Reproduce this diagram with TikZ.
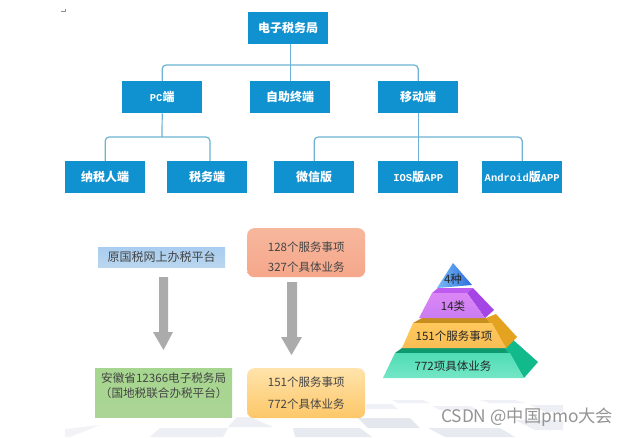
\documentclass[tikz,border=0pt]{standalone}
\usepackage{fontspec}
\setmainfont{Noto Sans CJK SC}
\newfontfamily\mono{Liberation Mono}
\newcommand{\lat}[1]{{\mono\fontsize{10.5}{12}\selectfont\bfseries #1}}
\definecolor{boxblue}{HTML}{1192D0}
\definecolor{connblue}{HTML}{6DB3D3}
\definecolor{arrowgray}{HTML}{ABABAB}
\definecolor{floorgray}{HTML}{E3E5EE}
\definecolor{inktext}{HTML}{444444}
\tikzset{
 orgbox/.style={fill=boxblue,text=white,font=\fontsize{12}{14}\selectfont\bfseries,minimum width=80pt,minimum height=32pt,inner sep=0pt,anchor=north west},
 conn/.style={draw=connblue,line width=1.2pt,rounded corners=4pt},
 softbox/.style={inner sep=0pt,anchor=north west,text=inktext,align=center},
 bigarrow/.style={fill=arrowgray},
 pyrtext/.style={inner sep=0pt,text=black!85,font=\fontsize{11.5}{13}\selectfont},
 floorpatch/.style={fill=floorgray}
}
\begin{document}
\begin{tikzpicture}[x=1pt,y=-1pt]
\useasboundingbox (0,0) rectangle (629,437);
\fill[white] (0,0) rectangle (629,437);
% floor
\fill[floorgray!45] (65,429) -- (100,425) -- (70,437) -- (65,437) -- cycle;
\fill[floorpatch,opacity=.6] (160,428) -- (228,428) -- (223,437) -- (150,437) -- cycle;
\fill[floorpatch,opacity=.6] (228,427) -- (237,417) -- (250,417) -- (273,427) -- cycle;
\fill[floorpatch,opacity=.8] (293,428) -- (360,428) -- (372,437) -- (295,437) -- cycle;
\fill[floorpatch,opacity=.9] (358,418) -- (410,418) -- (420,428) -- (368,428) -- cycle;
\fill[floorpatch,opacity=.8] (428,428) -- (500,428) -- (515,437) -- (445,437) -- cycle;
\fill[floorpatch,opacity=.5] (366,404) -- (392,404) -- (398,409) -- (366,409) -- cycle;
\fill[floorpatch,opacity=.5] (392,400) -- (423,400) -- (430,403) -- (398,403) -- cycle;
\fill[floorpatch,opacity=.5] (432,406) -- (470,406) -- (478,410) -- (440,410) -- cycle;
\fill[floorpatch,opacity=.5] (480,400) -- (515,400) -- (525,403) -- (490,403) -- cycle;
\fill[floorpatch,opacity=.6] (530,405) -- (563,405) -- (563,412) -- (545,412) -- cycle;
\fill[floorpatch,opacity=.6] (515,420) -- (563,420) -- (563,430) -- (535,430) -- cycle;
% corner mark
\draw[black!45,line width=0.5pt] (60.5,11.5) -- (66,11.5) (65.5,8.5) -- (65.5,12);
% org chart
\node[orgbox] (root) at (248,12) {电子税务局};
\node[orgbox] (pc) at (122,81) {\lat{PC}端};
\node[orgbox] (auto) at (250,81) {自助终端};
\node[orgbox] (mob) at (378,81) {移动端};
\node[orgbox] (tp) at (65,161) {纳税人端};
\node[orgbox] (tax) at (167,161) {税务端};
\node[orgbox] (wx) at (274,161) {微信版};
\node[orgbox] (ios) at (378,161) {\lat{IOS}版\lat{APP}};
\node[orgbox] (adr) at (482,161) {\lat{Android}版\lat{APP}};
\coordinate (busa) at (290,65);
\coordinate (busb) at (162,137);
\coordinate (busc) at (418,137);
\coordinate (taxtop) at (210,161);
\draw[conn] (root.south -| auto.north) -- (auto.north);
\draw[conn] (pc.north) |- (busa) -| (mob.north);
\draw[conn] (pc.south) -- (busb);
\draw[conn] (tp.north) |- (busb) -| (taxtop);
\draw[conn] (mob.south) -- (ios.north);
\draw[conn] (wx.north) |- (busc) -| (adr.north);
% lower left
\definecolor{bA}{HTML}{A9CDF0}\definecolor{bB}{HTML}{B9D6EE}
\definecolor{oA}{HTML}{F7B79D}\definecolor{oB}{HTML}{F5A78A}
\definecolor{gA}{HTML}{A6D68F}\definecolor{gB}{HTML}{ABD596}
\definecolor{yA}{HTML}{FFE3AB}\definecolor{yB}{HTML}{FDC768}
\node[softbox,minimum width=127pt,minimum height=20pt,top color=bA,bottom color=bB,font=\fontsize{12}{14}\selectfont] (old) at (98,247) {原国税网上办税平台};
\node[softbox,minimum width=118pt,minimum height=49pt,rounded corners=7pt,top color=oA,bottom color=oB,text height=39pt,font=\fontsize{11.5}{20}\selectfont] (oldn) at (247,228) {128个服务事项\\327个具体业务};
\node[softbox,minimum width=137pt,minimum height=49pt,top color=gA,bottom color=gB,text depth=16pt,font=\fontsize{11.6}{15}\selectfont] (new) at (95,368) {安徽省12366电子税务局\\（国地税联合办税平台）};
\node[softbox,minimum width=118pt,minimum height=50pt,rounded corners=7pt,top color=yA,bottom color=yB,font=\fontsize{11.5}{22}\selectfont] (newn) at (247,368) {151个服务事项\\772个具体业务};
\fill[bigarrow] (159,277) -- (168,277) -- (168,332) -- (173,332) -- (163.5,350) -- (153,332) -- (159,332) -- cycle;
\fill[bigarrow] (287,282) -- (297,282) -- (297,337) -- (302,337) -- (291.5,355) -- (281,337) -- (287,337) -- cycle;
% pyramid: bottom layer
\definecolor{t4}{HTML}{0E9A6E}\definecolor{s4}{HTML}{12B98A}
\definecolor{f4a}{HTML}{4FDDB6}\definecolor{f4b}{HTML}{74E6C6}
\definecolor{t3}{HTML}{C68E1E}\definecolor{s3}{HTML}{E3A21F}
\definecolor{f3a}{HTML}{FFC75C}\definecolor{f3b}{HTML}{F8BE55}
\definecolor{t2}{HTML}{BE5CF2}\definecolor{s2}{HTML}{A645E6}
\definecolor{f2a}{HTML}{DB86F6}\definecolor{f2b}{HTML}{CB7CF2}
\definecolor{pL}{HTML}{78BCF6}\definecolor{pR}{HTML}{2A6CDF}
\fill[t4] (402,348) -- (505,348) -- (510,353) -- (395,353) -- cycle;
\fill[s4] (511,338) -- (538,362) -- (524,378) -- (505,348) -- cycle;
\shade[top color=f4a,bottom color=f4b] (395,353) -- (510,353) -- (524,378) -- (383,378) -- cycle;
\fill[t3] (422,318) -- (486,318) -- (492,323) -- (413,323) -- cycle;
\fill[s3] (496,314) -- (517,337) -- (506,348) -- (486,318) -- cycle;
\shade[top color=f3a,bottom color=f3b] (413,323) -- (492,323) -- (506,348) -- (402,348) -- cycle;
\fill[t2] (438,288) -- (473,288) -- (467,293) -- (432,293) -- cycle;
\fill[s2] (473,288) -- (494,310) -- (485,318) -- (467,293) -- cycle;
\shade[top color=f2a,bottom color=f2b] (432,293) -- (467,293) -- (485,318) -- (419,318) -- cycle;
\shade[left color=pL,right color=pR] (453,263) -- (472,285) -- (437,288) -- cycle;
\node[pyrtext] (p1) at (453,279) {4种};
\node[pyrtext] (p2) at (453,306) {14类};
\node[pyrtext] (p3) at (454,336) {151个服务事项};
\node[pyrtext] (p4) at (453,366) {772项具体业务};
\node[inner sep=0pt,anchor=west,text=black!42,font=\fontsize{17.3}{19}\selectfont] (wm) at (441,417) {CSDN @中国pmo大会};
\end{tikzpicture}
\end{document}
